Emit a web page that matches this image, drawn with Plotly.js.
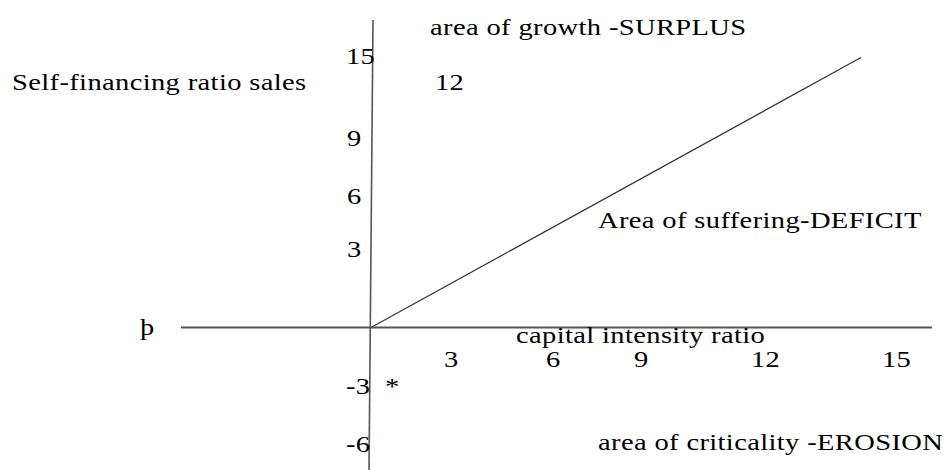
<!DOCTYPE html>
<html>
<head>
<meta charset="utf-8">
<script src="https://cdn.plot.ly/plotly-3.0.1.min.js"></script>
<style>
  html, body { margin: 0; padding: 0; background: #fff; }
  #chart { width: 944px; height: 470px; }
  /* wide serif lettering */
  .annotation-text {
    letter-spacing: 0.3px;
    transform-box: fill-box;
    transform-origin: center;
    transform: scaleX(1.24);
  }
</style>
</head>
<body>
<div id="chart"></div>
<script>
// Boundary line between the surplus and deficit areas
const capitalIntensity = [0, 14];
const selfFinancing = [0, 15];

// Tick labels written along the two axes
const xTickLabels = ['3', '6', '9', '12', '15'];
const yTickLabels = ['15', '12', '9', '6', '3', '-3', '-6'];
const originLabel = 'þ';
const pointMark = '*';

// Axis names and area names
const xAxisName = 'capital intensity ratio';
const yAxisName = 'Self-financing ratio sales';
const areaNames = ['area of growth -SURPLUS', 'Area of suffering-DEFICIT', 'area of criticality -EROSION'];

// ---- placement (axis units, label centres) ----
const X_RANGE = [-371 / 35, 573 / 35];
const Y_RANGE = [-142.5 / 18, 327.5 / 18];

const xTickPos = [[2.31, -1.81], [5.2, -1.81], [7.74, -1.81], [11.26, -1.81], [15.0, -1.81]];
const yTickPos = [[-0.31, 15.03], [2.24, 13.58], [-0.47, 10.47], [-0.47, 7.25], [-0.47, 4.31], [-0.36, -3.31], [-0.36, -6.53]];
const areaPos = [[6.19, 16.64], [11.1, 5.92], [11.4, -6.42]];
const xNamePos = [7.71, -0.47];
const yNamePos = [-6.04, 13.58];
const originPos = [-6.4, 0.0];
const markPos = [0.62, -3.3];

const FONT = { family: 'Liberation Serif, Times New Roman, serif', size: 23, color: '#000' };

function label(text, pos) {
  return { text: text, x: pos[0], y: pos[1], xref: 'x', yref: 'y', xanchor: 'center', yanchor: 'middle',
           showarrow: false, borderpad: 0, font: FONT };
}

const annotations = [];
xTickLabels.forEach((t, i) => annotations.push(label(t, xTickPos[i])));
yTickLabels.forEach((t, i) => annotations.push(label(t, yTickPos[i])));
areaNames.forEach((t, i) => annotations.push(label(t, areaPos[i])));
annotations.push(label(xAxisName, xNamePos));
annotations.push(label(yAxisName, yNamePos));
annotations.push(label(originLabel, originPos));
annotations.push(label(pointMark, markPos));

const shapes = [
  // horizontal axis
  { type: 'line', xref: 'x', yref: 'y', x0: -5.43, x1: 16.03, y0: 0, y1: 0, line: { color: '#555', width: 2 } },
  // vertical axis
  { type: 'line', xref: 'x', yref: 'y', x0: 0.057, x1: -0.057, y0: 17.08, y1: Y_RANGE[0], line: { color: '#555', width: 1.6 } }
];

const trace = {
  x: capitalIntensity,
  y: selfFinancing,
  type: 'scatter',
  mode: 'lines',
  line: { color: '#333', width: 1.2 },
  hoverinfo: 'skip'
};

const hiddenAxis = { visible: false, showgrid: false, zeroline: false, fixedrange: true };

const layout = {
  width: 944,
  height: 470,
  margin: { l: 0, r: 0, t: 0, b: 0 },
  paper_bgcolor: '#fff',
  plot_bgcolor: '#fff',
  showlegend: false,
  xaxis: Object.assign({ range: X_RANGE }, hiddenAxis),
  yaxis: Object.assign({ range: Y_RANGE }, hiddenAxis),
  shapes: shapes,
  annotations: annotations
};

Plotly.newPlot('chart', [trace], layout, { displayModeBar: false, staticPlot: true });
</script>
</body>
</html>
